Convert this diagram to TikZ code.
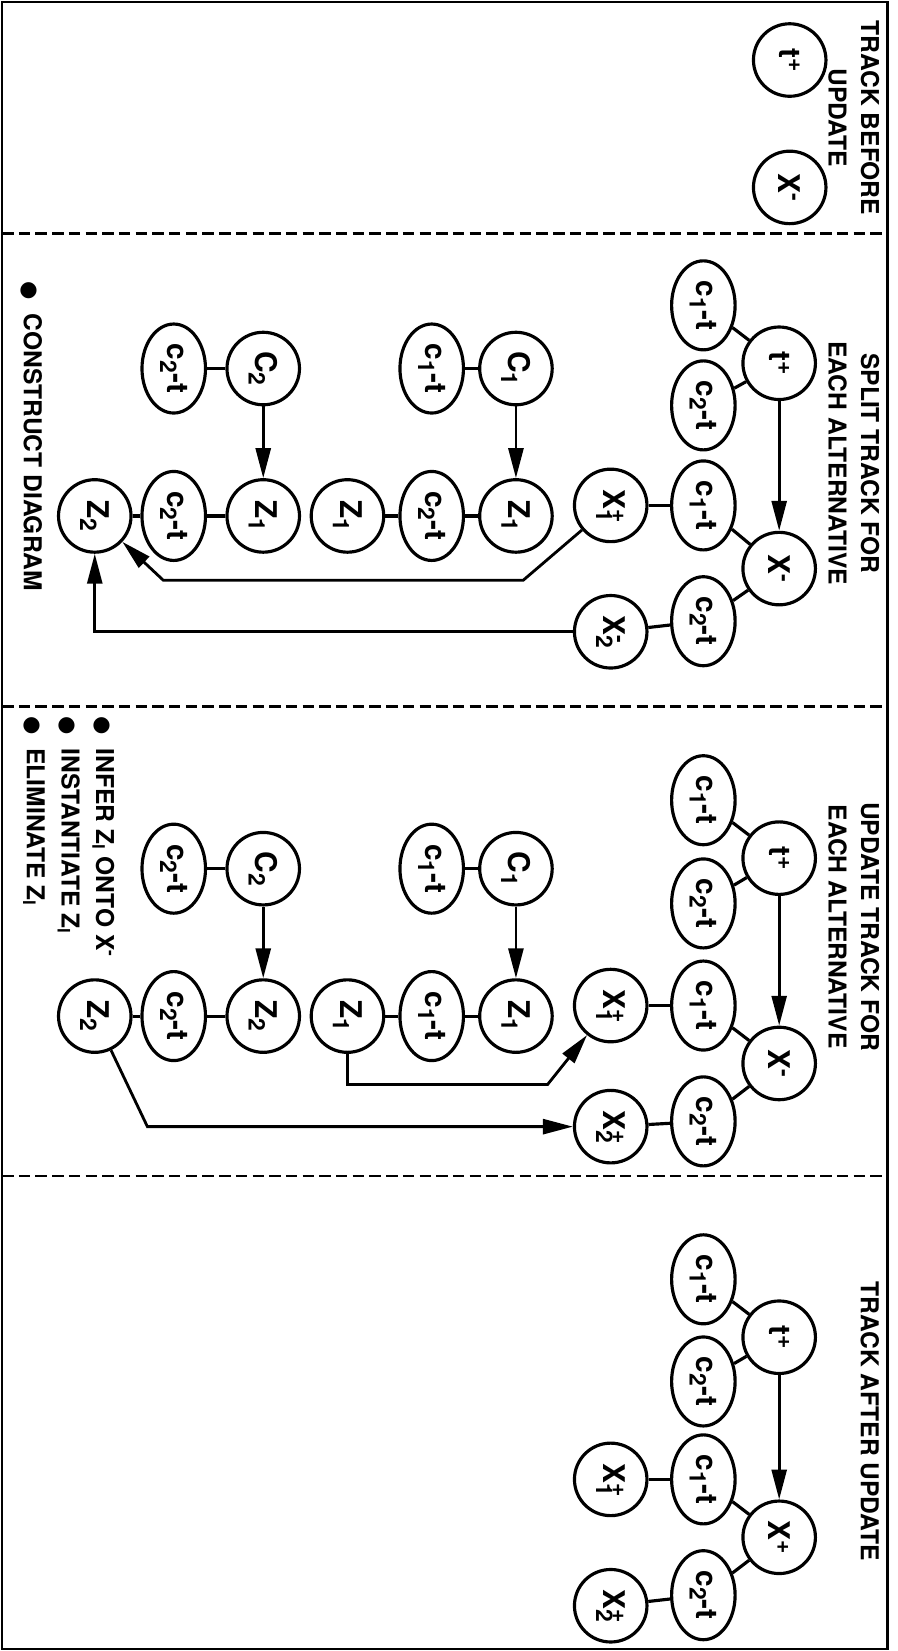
\documentclass[tikz,border=0pt]{standalone}
\usepackage{fontspec}
\setmainfont{TeX Gyre Heros}
\newfontfamily\symfont{DejaVu Sans}
\usetikzlibrary{shapes.geometric, arrows.meta}

\newcommand{\sps}[1]{\raisebox{0.55ex}{\fontsize{13}{13}\selectfont #1}}
\newcommand{\sbs}[1]{\raisebox{-0.45ex}{\fontsize{13}{13}\selectfont #1}}
\newcommand{\cmt}[1]{c\sbs{#1}-t}
\newcommand{\xsu}[2]{X\rlap{\sps{#1}}\sbs{#2}}
\newcommand{\bigdot}{{\symfont\fontsize{12}{12}\selectfont ●}}

\begin{document}
\begin{tikzpicture}[x=0.021056cm, y=-0.021056cm, >={Triangle[length=17pt, width=8.5pt]}, every node/.style={rotate=-90, font=\bfseries\fontsize{17}{19}\selectfont}]
    \tikzstyle{state} = [circle, draw, line width=1.8pt, minimum size=1.45cm, inner sep=0pt]
    \tikzstyle{cond} = [ellipse, draw, line width=1.8pt, minimum width=1.78cm, minimum height=1.27cm, inner sep=0pt]
    \tikzstyle{title} = [align=center, font=\bfseries\fontsize{14}{18.5}\selectfont]
    \tikzstyle{note} = [align=left, inner sep=0pt, font=\bfseries\fontsize{14}{19.7}\selectfont]
    \tikzstyle{link} = [draw, line width=1.8pt]
    \tikzstyle{line} = [draw, ->, line width=1.6pt]
    \tikzstyle{divider} = [draw, line width=1.5pt, dash pattern=on 6.5pt off 3pt]

    \useasboundingbox (0,0) rectangle (852,1568);
    \draw[line width=1.3pt] (2,2) rectangle (843,1566);
    \path[divider] (2,222) -- (843,222);
    \path[divider] (2,671) -- (843,671);
    \path[divider] (2,1117) -- (843,1117);

    % track before update
    \node[title] (ttl0) at (811,112) {TRACK BEFORE\\UPDATE};
    \node[state] (atp) at (750,57) {t\sps{+}};
    \node[state] (axm) at (750,178) {X\sps{-}};

    % split track
    \node[title] (ttl1) at (811,440) {SPLIT TRACK FOR\\EACH ALTERNATIVE};
    \node[state] (btp) at (740,345) {t\sps{+}};
    \node[cond] (bc1) at (668,290) {\cmt{1}};
    \node[cond] (bc2) at (668,385) {\cmt{2}};
    \node[state] (bxm) at (740,540) {X\sps{-}};
    \node[cond] (bc1x) at (668,480) {\cmt{1}};
    \node[cond] (bc2x) at (668,590) {\cmt{2}};
    \node[state] (bx1) at (580,480) {\xsu{+}{1}};
    \node[state] (bx2) at (580,600) {\xsu{-}{2}};
    \node[state] (bC1) at (490,350) {C\sbs{1}};
    \node[cond] (bc1c) at (410,350) {\cmt{1}};
    \node[state] (bz1a) at (490,490) {Z\sbs{1}};
    \node[cond] (bc2z) at (410,490) {\cmt{2}};
    \node[state] (bz1b) at (330,490) {Z\sbs{1}};
    \node[state] (bC2) at (250,350) {C\sbs{2}};
    \node[cond] (bc2c) at (165,350) {\cmt{2}};
    \node[state] (bz1c) at (250,490) {Z\sbs{1}};
    \node[cond] (bc2d) at (165,490) {\cmt{2}};
    \node[state] (bz2) at (90,490) {Z\sbs{2}};
    \node[note, anchor=west] (bnote) at (30,267) {\bigdot\ \ CONSTRUCT DIAGRAM};

    \path[link] (btp) -- (bc1);
    \path[link] (btp) -- (bc2);
    \path[link] (bxm) -- (bc1x);
    \path[link] (bxm) -- (bc2x);
    \path[link] (bc1x) -- (bx1);
    \path[link] (bc2x) -- (bx2);
    \path[link] (bC1) -- (bc1c);
    \path[link] (bz1a) -- (bc2z);
    \path[link] (bc2z) -- (bz1b);
    \path[link] (bC2) -- (bc2c);
    \path[link] (bz1c) -- (bc2d);
    \path[link] (bc2d) -- (bz2);
    \path[line] (btp) -- (bxm);
    \path[line] (bC1) -- (bz1a);
    \path[line] (bC2) -- (bz1c);
    \path[line] (bx1) -- (497,551) -- (155,551) -- (bz2);
    \path[line] (bx2) -- (bx2 -| bz2) -- (bz2);

    % update track
    \node[title] (ttl2) at (811,880) {UPDATE TRACK FOR\\EACH ALTERNATIVE};
    \node[state] (ctp) at (740,815) {t\sps{+}};
    \node[cond] (cc1) at (668,760) {\cmt{1}};
    \node[cond] (cc2) at (668,858) {\cmt{2}};
    \node[state] (cxm) at (740,1010) {X\sps{-}};
    \node[cond] (cc1x) at (668,955) {\cmt{1}};
    \node[cond] (cc2x) at (668,1065) {\cmt{2}};
    \node[state] (cx1) at (580,955) {\xsu{+}{1}};
    \node[state] (cx2) at (580,1070) {\xsu{+}{2}};
    \node[state] (cC1) at (490,825) {C\sbs{1}};
    \node[cond] (cc1c) at (410,825) {\cmt{1}};
    \node[state] (cz1a) at (490,965) {Z\sbs{1}};
    \node[cond] (cc1z) at (410,965) {\cmt{1}};
    \node[state] (cz1b) at (330,965) {Z\sbs{1}};
    \node[state] (cC2) at (250,825) {C\sbs{2}};
    \node[cond] (cc2c) at (165,825) {\cmt{2}};
    \node[state] (cz2a) at (250,965) {Z\sbs{2}};
    \node[cond] (cc2z) at (165,965) {\cmt{2}};
    \node[state] (cz2b) at (90,965) {Z\sbs{2}};
    \node[note, anchor=north west] (cnote) at (109,680) {\bigdot\ \ INFER Z\textsubscript{l} ONTO X\textsuperscript{-}\\\bigdot\ \ INSTANTIATE Z\textsubscript{l}\\\bigdot\ \ ELIMINATE Z\textsubscript{l}};

    \path[link] (ctp) -- (cc1);
    \path[link] (ctp) -- (cc2);
    \path[link] (cxm) -- (cc1x);
    \path[link] (cxm) -- (cc2x);
    \path[link] (cc1x) -- (cx1);
    \path[link] (cc2x) -- (cx2);
    \path[link] (cC1) -- (cc1c);
    \path[link] (cz1a) -- (cc1z);
    \path[link] (cc1z) -- (cz1b);
    \path[link] (cC2) -- (cc2c);
    \path[link] (cz2a) -- (cc2z);
    \path[link] (cc2z) -- (cz2b);
    \path[line] (ctp) -- (cxm);
    \path[line] (cC1) -- (cz1a);
    \path[line] (cC2) -- (cz2a);
    \path[line] (cz1b) -- (330,1030) -- (520,1030) -- (cx1);
    \path[line] (cz2b) -- (140,1070) -- (cx2);

    % track after update
    \node[title] (ttl3) at (826,1350) {TRACK AFTER UPDATE};
    \node[state] (dtp) at (740,1270) {t\sps{+}};
    \node[cond] (dc1) at (668,1215) {\cmt{1}};
    \node[cond] (dc2) at (668,1312) {\cmt{2}};
    \node[state] (dxp) at (740,1460) {X\sps{+}};
    \node[cond] (dc1x) at (668,1405) {\cmt{1}};
    \node[cond] (dc2x) at (668,1515) {\cmt{2}};
    \node[state] (dx1) at (580,1405) {\xsu{+}{1}};
    \node[state] (dx2) at (580,1525) {\xsu{+}{2}};

    \path[link] (dtp) -- (dc1);
    \path[link] (dtp) -- (dc2);
    \path[link] (dxp) -- (dc1x);
    \path[link] (dxp) -- (dc2x);
    \path[link] (dc1x) -- (dx1);
    \path[link] (dc2x) -- (dx2);
    \path[line] (dtp) -- (dxp);
\end{tikzpicture}
\end{document}
